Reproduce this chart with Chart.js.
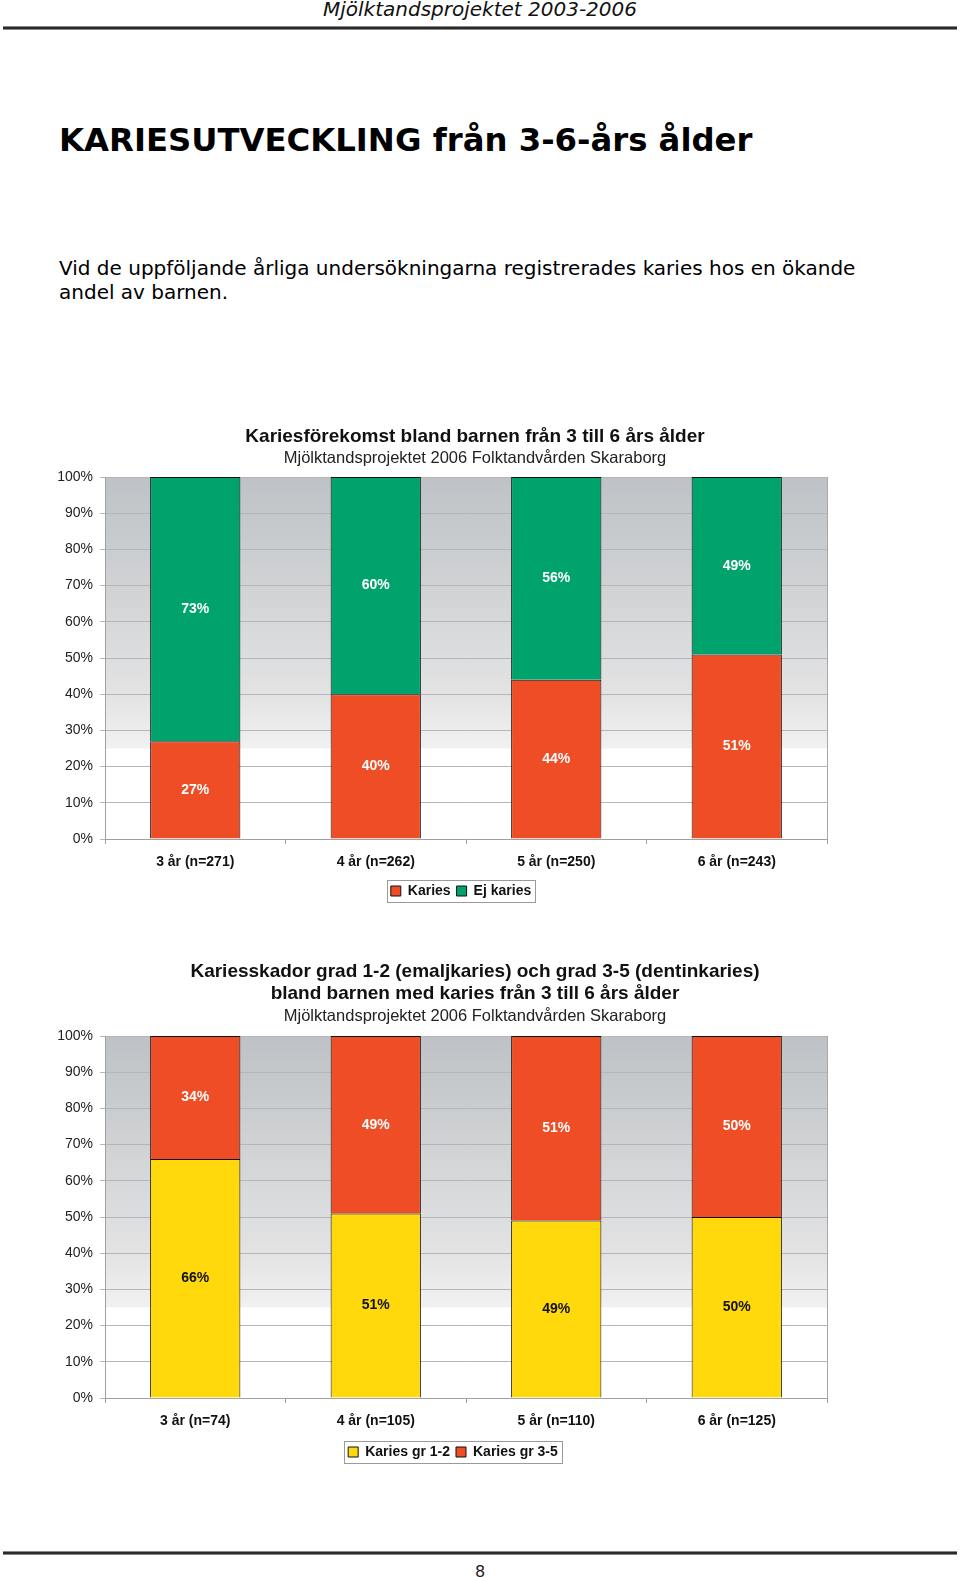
<!DOCTYPE html>
<html>
<head>
<meta charset="utf-8">
<script src="https://cdn.jsdelivr.net/npm/chart.js@4.4.1/dist/chart.umd.min.js"></script>
<style>
  body { margin: 0; background: #fff; width: 960px; height: 1577px; position: relative; overflow: hidden; }
  .hdr { position: absolute; top: -3px; left: 0; width: 960px; text-align: center; font: italic 20px "DejaVu Sans"; color: #111; }
  .rule { position: absolute; left: 3px; width: 954px; height: 2px; background: #2a2a2a; border-top: 1px solid #888; border-bottom: 1px solid #888; }
  h1 { position: absolute; top: 124px; left: 59px; margin: 0; font: bold 32.3px/32px "DejaVu Sans"; color: #000; }
  .intro { position: absolute; top: 256px; left: 59px; margin: 0; font: 20px/24px "DejaVu Sans"; color: #000; }
  .page { position: absolute; top: 1562px; left: 0; width: 960px; text-align: center; font: 16px "DejaVu Sans"; color: #222; }
  canvas { position: absolute; left: 0; }
</style>
</head>
<body>
<div class="hdr">Mjölktandsprojektet 2003-2006</div>
<div class="rule" style="top:26px"></div>
<h1>KARIESUTVECKLING från 3-6-års ålder</h1>
<p class="intro">Vid de uppföljande årliga undersökningarna registrerades karies hos en ökande<br>andel av barnen.</p>
<div style="position:absolute;top:410px;left:0;width:960px;height:502px"><canvas id="chart1"></canvas></div>
<div style="position:absolute;top:945px;left:0;width:960px;height:528px"><canvas id="chart2"></canvas></div>
<div class="rule" style="top:1551px"></div>
<div class="page">8</div>

<script>
// chart 1 data
const ages1 = ["3 år (n=271)", "4 år (n=262)", "5 år (n=250)", "6 år (n=243)"];
const karies = [27, 40, 44, 51];
const ejKaries = [73, 60, 56, 49];

// chart 2 data
const ages2 = ["3 år (n=74)", "4 år (n=105)", "5 år (n=110)", "6 år (n=125)"];
const gr12 = [66, 51, 49, 50];
const gr35 = [34, 49, 51, 50];

const RED = "#ef4d25";
const GREEN = "#00a36c";
const YELLOW = "#ffd90c";

Chart.defaults.font.family = '"Liberation Sans", Arial, sans-serif';
Chart.defaults.color = "#111";

// gradient plot background + right frame line
const plotBg = {
    id: "plotBg",
    beforeDraw(chart) {
        const a = chart.chartArea;
        const ctx = chart.ctx;
        const g = ctx.createLinearGradient(0, a.top, 0, a.bottom);
        g.addColorStop(0, "#bec2c6");
        g.addColorStop(0.3, "#d0d2d4");
        g.addColorStop(0.6, "#e3e3e4");
        g.addColorStop(0.748, "#f1f1f1");
        g.addColorStop(0.752, "#ffffff");
        g.addColorStop(1, "#ffffff");
        ctx.save();
        ctx.fillStyle = g;
        ctx.fillRect(a.left, a.top, a.right - a.left, a.bottom - a.top);
        ctx.restore();
    },
    afterDatasetsDraw(chart) {
        const a = chart.chartArea;
        const ctx = chart.ctx;
        ctx.save();
        ctx.strokeStyle = "#a8a8a8";
        ctx.lineWidth = 1;
        ctx.beginPath();
        ctx.moveTo(a.right + 0.5, a.top);
        ctx.lineTo(a.right + 0.5, a.bottom);
        ctx.stroke();
        ctx.restore();
    }
};

// percentage labels inside each segment
const segLabels = {
    id: "segLabels",
    afterDatasetsDraw(chart) {
        const ctx = chart.ctx;
        ctx.save();
        ctx.font = 'bold 14px "Liberation Sans", Arial, sans-serif';
        ctx.textAlign = "center";
        ctx.textBaseline = "middle";
        chart.data.datasets.forEach((ds, i) => {
            ctx.fillStyle = ds.labelColor || "#fff";
            chart.getDatasetMeta(i).data.forEach((bar, j) => {
                ctx.fillText(ds.data[j] + "%", bar.x, (bar.y + bar.base) / 2);
            });
        });
        ctx.restore();
    }
};

// recentre title, subtitle and legend boxes like the original page
const recentre = {
    id: "recentre",
    afterLayout(chart, args, opts) {
        chart.boxes.forEach(b => {
            if (b.axis) return;
            const cx = b.position === "bottom" ? opts.legendX : opts.titleX;
            const w = b.right - b.left;
            b.left = cx - w / 2;
            b.right = cx + w / 2;
        });
    }
};

// thin frame around the legend
const legendFrame = {
    id: "legendFrame",
    afterDraw(chart) {
        const boxes = chart.legend.legendHitBoxes;
        if (!boxes || !boxes.length) return;
        const l = Math.min(...boxes.map(b => b.left)) - 4;
        const r = Math.max(...boxes.map(b => b.left + b.width)) + 4;
        const t = boxes[0].top - 4;
        const h = boxes[0].height + 8;
        const ctx = chart.ctx;
        ctx.save();
        ctx.strokeStyle = "#9a9a9a";
        ctx.lineWidth = 1;
        ctx.strokeRect(Math.round(l) + 0.5, Math.round(t) + 0.5, Math.round(r - l), Math.round(h));
        ctx.restore();
    }
};

function makeChart(id, labels, datasets, titleLines, titleTop, subBottom, axisH, legendX) {
    return new Chart(document.getElementById(id), {
        type: "bar",
        data: { labels: labels, datasets: datasets },
        options: {
            responsive: true,
            maintainAspectRatio: false,
            animation: false,
            layout: { padding: { left: 0, right: 133, top: 0, bottom: 4 } },
            datasets: { bar: { barPercentage: 0.5, categoryPercentage: 1, borderColor: "#111", borderWidth: 1 } },
            scales: {
                x: {
                    stacked: true,
                    grid: { drawOnChartArea: false, tickLength: 5, color: "#a0a0a0", offset: true },
                    border: { color: "#a0a0a0" },
                    ticks: { font: { size: 14, weight: "bold" }, color: "#111", padding: 10 },
                    afterFit(scale) { scale.height = axisH; }
                },
                y: {
                    stacked: true,
                    min: 0,
                    max: 100,
                    grid: { color: "#b4b7ba", tickLength: 5 },
                    border: { color: "#a0a0a0" },
                    ticks: { stepSize: 10, font: { size: 14 }, color: "#222", padding: 7, callback: v => v + "%" },
                    afterFit(scale) { scale.width = 105; }
                }
            },
            plugins: {
                title: {
                    display: true,
                    text: titleLines,
                    font: { size: 19, weight: "bold" },
                    color: "#111",
                    lineHeight: 1.2,
                    padding: { top: titleTop, bottom: 1 }
                },
                subtitle: {
                    display: true,
                    text: "Mjölktandsprojektet 2006 Folktandvården Skaraborg",
                    font: { size: 16.5 },
                    color: "#222",
                    lineHeight: 1.2,
                    padding: { top: 0, bottom: subBottom }
                },
                legend: {
                    position: "bottom",
                    labels: { boxWidth: 10, boxHeight: 10, padding: 6, font: { size: 14, weight: "bold" }, color: "#111" }
                },
                recentre: { titleX: 475, legendX: legendX },
                tooltip: { enabled: false }
            }
        },
        plugins: [plotBg, segLabels, recentre, legendFrame]
    });
}

makeChart("chart1", ages1, [
    { label: "Karies", data: karies, backgroundColor: RED, labelColor: "#fff" },
    { label: "Ej karies", data: ejKaries, backgroundColor: GREEN, labelColor: "#fff" }
], "Kariesförekomst bland barnen från 3 till 6 års ålder", 15, 8.4, 39, 461);

makeChart("chart2", ages2, [
    { label: "Karies gr 1-2", data: gr12, backgroundColor: YELLOW, labelColor: "#111" },
    { label: "Karies gr 3-5", data: gr35, backgroundColor: RED, labelColor: "#fff" }
], ["Kariesskador grad 1-2 (emaljkaries) och grad 3-5 (dentinkaries)", "bland barnen med karies från 3 till 6 års ålder"], 15, 9.6, 41, 453);
</script>
</body>
</html>
